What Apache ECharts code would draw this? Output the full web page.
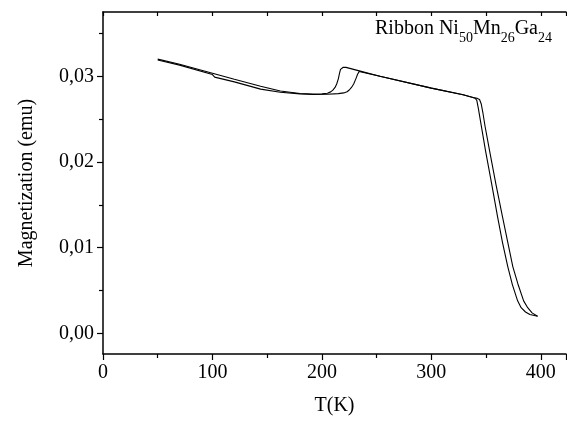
<!DOCTYPE html>
<html>
<head>
<meta charset="utf-8">
<script src="https://cdn.jsdelivr.net/npm/echarts@6/dist/echarts.min.js"></script>
<style>html,body{margin:0;padding:0;background:#fff}#c{width:567px;height:421px}</style>
</head>
<body>
<div id="c"></div>
<script>
// Heating branch (transition ~233 K, right Curie branch)
const heatT = [50, 70, 100, 102, 120, 144, 162, 180, 192, 205, 215, 220, 223, 225, 227, 229, 231, 232.5, 234, 235.5, 253, 300, 329, 338, 342, 344, 345.5, 347, 349, 353.2, 359, 365, 370, 374.4, 379, 384.3, 388, 392, 397];
const heatM = [0.0319, 0.0313, 0.0302, 0.02990, 0.02935, 0.02850, 0.02814, 0.02795, 0.02788, 0.02790, 0.02798, 0.02806, 0.0282, 0.0284, 0.0287, 0.0291, 0.0297, 0.0302, 0.03055, 0.0306, 0.0300, 0.02862, 0.02785, 0.02752, 0.02742, 0.0273, 0.0268, 0.0258, 0.0242, 0.0213, 0.0174, 0.0136, 0.0105, 0.0078, 0.0058, 0.0038, 0.0030, 0.0024, 0.0020];
// Cooling branch (transition ~217 K, left Curie branch)
const coolT = [50, 70, 100, 120, 144, 162, 180, 192, 200, 205, 208, 210, 212, 213.5, 215, 216, 217, 218, 219.5, 222, 235, 253, 300, 329, 338, 340, 341.5, 343, 345.5, 349.5, 355, 360.5, 365, 369.8, 374, 378.8, 382, 386, 390, 397];
const coolM = [0.0320, 0.0314, 0.03035, 0.02965, 0.02884, 0.02829, 0.0280, 0.02793, 0.02795, 0.02803, 0.02818, 0.02838, 0.0287, 0.0291, 0.0297, 0.0303, 0.0308, 0.03098, 0.03106, 0.03104, 0.0306, 0.0300, 0.02862, 0.02785, 0.02752, 0.02744, 0.0272, 0.0262, 0.0243, 0.0213, 0.0175, 0.0136, 0.0106, 0.0078, 0.0057, 0.0038, 0.0030, 0.0025, 0.0022, 0.0020];

const yLabels = [0, 0.01, 0.02, 0.03];
const yMinor = [0.005, 0.015, 0.025, 0.035];

const font = 'Liberation Serif, Times New Roman, serif';
const zip = (a, b) => a.map((v, i) => [v, b[i]]);
const X_MIN = 0, X_MAX = 423, Y_MIN = -0.0024, Y_MAX = 0.0375;

const chart = echarts.init(document.getElementById('c'), null, {renderer: 'canvas'});
chart.setOption({
  animation: false,
  backgroundColor: '#fff',
  title: {
    right: 10, top: 18,
    text: '{a|Ribbon Ni}{s|50}{a|Mn}{s|26}{a|Ga}{s|24}',
    textStyle: {
      fontWeight: 'normal',
      rich: {
        a: {fontFamily: font, fontSize: 20, fontWeight: 'normal', color: '#000', lineHeight: 22, verticalAlign: 'bottom', padding: [0, 0, 6, 0]},
        s: {fontFamily: font, fontSize: 14, fontWeight: 'normal', color: '#000', lineHeight: 15, verticalAlign: 'bottom'}
      }
    }
  },
  grid: {left: 103, right: 1, top: 12, bottom: 64, containLabel: false},
  xAxis: [{
    type: 'value', min: X_MIN, max: X_MAX, interval: 100, position: 'bottom',
    name: 'T(K)', nameLocation: 'middle', nameGap: 42,
    nameTextStyle: {fontFamily: font, fontSize: 20, color: '#000'},
    axisLine: {show: true, onZero: false, lineStyle: {color: '#000', width: 1.5}},
    axisTick: {show: true, inside: false, length: 6, lineStyle: {color: '#000', width: 1.2}},
    minorTick: {show: true, splitNumber: 2, length: 4, lineStyle: {color: '#000', width: 1.2}},
    axisLabel: {fontFamily: font, fontSize: 20, color: '#000', margin: 9, showMaxLabel: false},
    splitLine: {show: false}, minorSplitLine: {show: false}
  }, {
    type: 'value', min: X_MIN, max: X_MAX, interval: 50, position: 'top',
    axisLine: {show: true, onZero: false, lineStyle: {color: '#000', width: 1.5}},
    axisTick: {show: true, inside: true, length: 4, lineStyle: {color: '#000', width: 1.2}},
    axisLabel: {show: false}, splitLine: {show: false}
  }],
  yAxis: [{
    type: 'value', min: Y_MIN, max: Y_MAX, position: 'left',
    name: 'Magnetization (emu)', nameLocation: 'middle', nameGap: 66,
    nameTextStyle: {fontFamily: font, fontSize: 20, color: '#000'},
    axisLine: {show: true, onZero: false, lineStyle: {color: '#000', width: 1.5}},
    axisTick: {show: true, inside: false, length: 6, customValues: yLabels, lineStyle: {color: '#000', width: 1.2}},
    axisLabel: {fontFamily: font, fontSize: 20, color: '#000', margin: 9, customValues: yLabels,
      formatter: v => v.toFixed(2).replace('.', ',')},
    splitLine: {show: false}
  }, {
    type: 'value', min: Y_MIN, max: Y_MAX, position: 'left',
    axisLine: {show: false, onZero: false},
    axisTick: {show: true, inside: false, length: 4, customValues: yMinor, lineStyle: {color: '#000', width: 1.2}},
    axisLabel: {show: false}, splitLine: {show: false}
  }],
  series: [{
    type: 'line', name: 'heating', data: zip(heatT, heatM), showSymbol: false, smooth: false,
    lineStyle: {color: '#000', width: 1.1}, xAxisIndex: 0, yAxisIndex: 0
  }, {
    type: 'line', name: 'cooling', data: zip(coolT, coolM), showSymbol: false, smooth: false,
    lineStyle: {color: '#000', width: 1.1}, xAxisIndex: 0, yAxisIndex: 0
  }]
});
</script>
</body>
</html>
